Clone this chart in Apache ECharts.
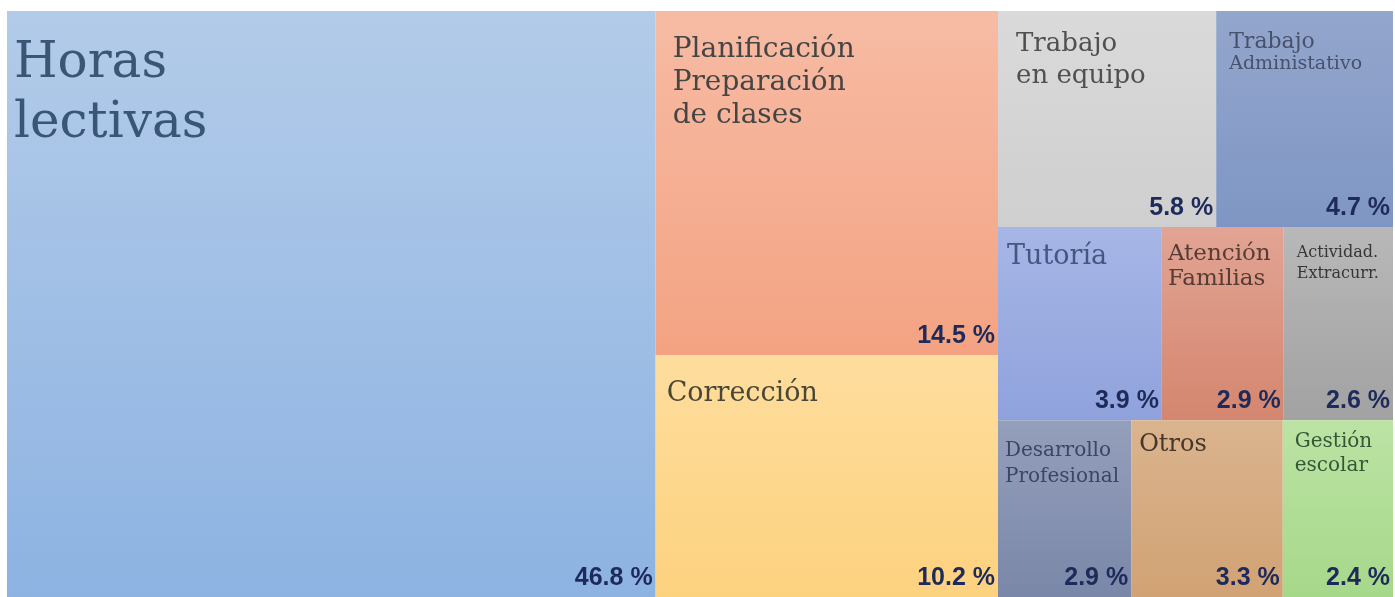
<!DOCTYPE html>
<html>
<head>
<meta charset="utf-8">
<script src="https://cdn.jsdelivr.net/npm/echarts@6/dist/echarts.min.js"></script>
<style>html,body{margin:0;padding:0;background:#fff;}#c{width:1395px;height:597px;}</style>
</head>
<body>
<div id="c"></div>
<script>
// ---- data ----
const names = ['Horas\nlectivas', 'Planificación\nPreparación\nde clases', 'Corrección',
  'Trabajo\nen equipo', 'Trabajo\nAdministativo', 'Tutoría', 'Atención\nFamilias',
  'Actividad.\nExtracurr.', 'Desarrollo\nProfesional', 'Otros', 'Gestión\nescolar'];
const percents = [46.8, 14.5, 10.2, 5.8, 4.7, 3.9, 2.9, 2.6, 2.9, 3.3, 2.4];
// hierarchy of the blocks (indices into names/percents)
const groups = [0, [1, 2], [[3, 4], [[5, 6, 7], [8, 9, 10]]]];
const topColors = ['#b3cbe9', '#f7bba4', '#fedd9d', '#dadada', '#93a6cc', '#a6b6e6', '#e2a494', '#b8b8b8', '#949fbb', '#dab48e', '#bce3a4'];
const bottomColors = ['#8db3e2', '#f3a382', '#fdd27f', '#cfcfcf', '#7f96c4', '#90a2dc', '#d4866f', '#a2a2a2', '#7a87a8', '#d1a274', '#a6d88a'];

// ---- styles ----
const nameStyles = [
  {fs: 50, lh: 60, color: '#3a5676', pad: [23, 0, 0, 7]},
  {fs: 28, lh: 33, color: '#454545', pad: [22, 0, 0, 17]},
  {fs: 27, lh: 33, color: '#4a4736', pad: [22, 0, 0, 11]},
  {fs: 26, lh: 32, color: '#505050', pad: [17, 0, 0, 18]},
  {fs: 22, lh: 22, color: '#46526c', pad: [20, 0, 0, 13]},
  {fs: 27, lh: 30, color: '#465682', pad: [15, 0, 0, 9]},
  {fs: 23, lh: 25, color: '#563c34', pad: [15, 0, 0, 6]},
  {fs: 16, lh: 21, color: '#363636', pad: [15, 0, 0, 13]},
  {fs: 20, lh: 26, color: '#3a4662', pad: [18, 0, 0, 7]},
  {fs: 24, lh: 26, color: '#46362c', pad: [12, 0, 0, 8]},
  {fs: 20, lh: 24, color: '#365636', pad: [10, 0, 0, 12]}
];
const serif = '"DejaVu Serif", serif';

function grad(i) {
  return {type: 'linear', x: 0, y: 0, x2: 0, y2: 1,
    colorStops: [{offset: 0, color: topColors[i]}, {offset: 1, color: bottomColors[i]}]};
}

function leaf(i, mode) {
  if (mode === 'pct') {
    return {name: percents[i].toFixed(1) + ' %', value: percents[i],
      itemStyle: {color: 'transparent', borderColor: 'transparent', borderWidth: 0}};
  }
  const s = nameStyles[i];
  const lab = {fontFamily: serif, fontSize: s.fs, lineHeight: s.lh, color: s.color, padding: s.pad, overflow: 'none'};
  if (i === 4) {
    lab.formatter = p => { const t = p.name.split('\n'); return '{a|' + t[0] + '}\n{b|' + t[1] + '}'; };
    lab.rich = {
      a: {fontFamily: serif, fontSize: 22, lineHeight: 22, color: s.color},
      b: {fontFamily: serif, fontSize: 19, lineHeight: 22, color: s.color}
    };
  }
  return {name: names[i], value: percents[i],
    itemStyle: {color: grad(i), borderWidth: 0},
    label: lab};
}

function build(g, mode) {
  if (Array.isArray(g)) return {name: '', children: g.map(x => build(x, mode))};
  return leaf(g, mode);
}

function series(mode) {
  return {
    type: 'treemap',
    left: 7, top: 11, width: 1386, height: 586,
    sort: false,
    squareRatio: 1.19,
    roam: false,
    nodeClick: false,
    silent: mode === 'pct',
    breadcrumb: {show: false},
    animation: false,
    itemStyle: {borderWidth: 0, gapWidth: 0, borderColor: 'transparent'},
    upperLabel: {show: false},
    label: mode === 'pct'
      ? {show: true, position: 'insideBottomRight', distance: 0, padding: [0, 3, 6, 0],
         fontFamily: '"Liberation Sans", Arial, sans-serif', fontWeight: 'bold', fontSize: 25, lineHeight: 26, color: '#1e2a5a'}
      : {show: true, position: 'insideTopLeft', distance: 0},
    emphasis: {disabled: true},
    data: build(groups, mode).children
  };
}

const chart = echarts.init(document.getElementById('c'), null, {renderer: 'canvas'});
chart.setOption({
  animation: false,
  series: [series('name'), series('pct')]
});
</script>
</body>
</html>
